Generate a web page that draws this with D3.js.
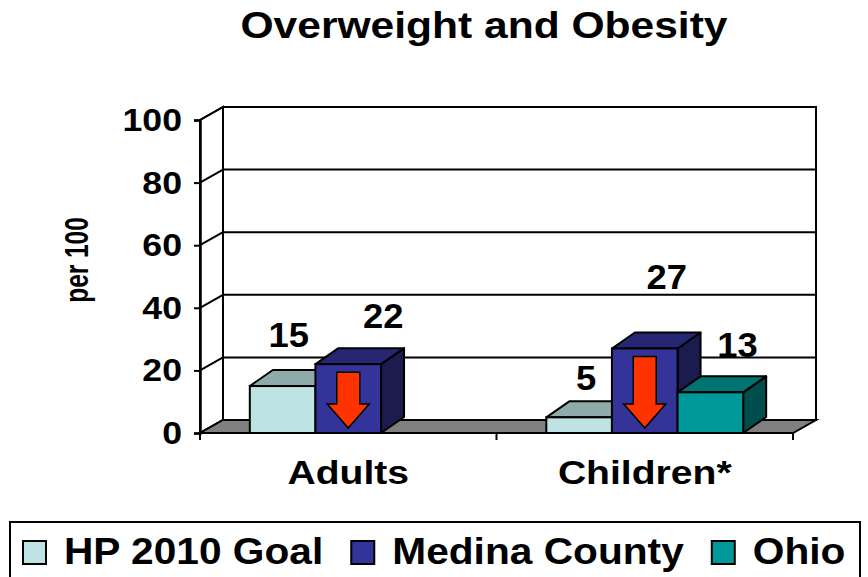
<!DOCTYPE html>
<html>
<head>
<meta charset="utf-8">
<script src="https://cdn.jsdelivr.net/npm/d3@7"></script>
<style>
  body { margin: 0; background: #fff; }
  text { font-family: "Liberation Sans", Arial, sans-serif; font-weight: bold; fill: #000; }
</style>
</head>
<body>
<div id="chart"></div>
<script>
// data
var categories = ['Adults', 'Children*'];
var seriesNames = ['HP 2010 Goal', 'Medina County', 'Ohio'];
var hpGoal = [15, 5];
var medina = [22, 27];
var ohio = [null, 13];
var yTicks = [0, 20, 40, 60, 80, 100];
var arrowSeries = ['Medina County'];

// colours per series: front, top, side
var colors = {
    'HP 2010 Goal': ['#bde3e5', '#8eaaab', '#5f7a7b'],
    'Medina County': ['#333399', '#262673', '#1b1b4d'],
    'Ohio': ['#009999', '#007373', '#004d4d']
};

// nudges of the value labels from the bar's top-centre (as Excel placed them)
var labelNudge = {
    'Adults|HP 2010 Goal': [6, -39],
    'Adults|Medina County': [35, -36],
    'Children*|HP 2010 Goal': [7, -27],
    'Children*|Medina County': [22, -59],
    'Children*|Ohio': [27, -35]
};

var rows = [];
for (var i = 0; i < categories.length; i++) {
    var vals = [hpGoal[i], medina[i], ohio[i]];
    for (var j = 0; j < seriesNames.length; j++)
        if (vals[j] != null) rows.push({cat: categories[i], series: seriesNames[j], value: vals[j]});
}

var width = 868, height = 577;
var stretch = 1.15;   // the original is stretched sideways

var svg = d3.select('#chart').append('svg')
    .attr('width', width)
    .attr('height', height);

// PLOT AREA
var plotLeft = 200, plotRight = 793, plotBottom = 433, plotTop = 120;
var wallDx = 23, wallDy = -13;
var barDx = 23, barDy = -16;

var x0 = d3.scaleBand().domain(categories).range([plotLeft, plotRight])
    .paddingInner(0.336).paddingOuter(0.168);
var x1 = d3.scaleBand().domain(seriesNames).range([0, x0.bandwidth()]);
var y = d3.scaleLinear().domain([0, 100]).range([plotBottom, plotTop]);

function label(sel, x, yy, size, anchor, sx) {
    return sel.append('text')
        .attr('transform', 'translate(' + x + ',' + yy + ') scale(' + (sx || stretch) + ',1)')
        .attr('text-anchor', anchor || 'middle')
        .attr('font-size', size + 'px');
}

function pts(a) { return a.map(function(p){ return p.join(','); }).join(' '); }

// back wall
svg.append('rect')
    .attr('x', plotLeft + wallDx)
    .attr('y', y(100) + wallDy)
    .attr('width', plotRight - plotLeft)
    .attr('height', y(0) - y(100))
    .attr('fill', '#fff')
    .attr('stroke', '#000')
    .attr('stroke-width', 2);

// left wall
svg.append('polygon')
    .attr('points', pts([[plotLeft, y(0)], [plotLeft, y(100)], [plotLeft + wallDx, y(100) + wallDy], [plotLeft + wallDx, y(0) + wallDy]]))
    .attr('fill', '#fff')
    .attr('stroke', '#000')
    .attr('stroke-width', 2);

// gridlines on both walls
yTicks.forEach(function(t){
    svg.append('line')
        .attr('x1', plotLeft + wallDx).attr('x2', plotRight + wallDx)
        .attr('y1', y(t) + wallDy).attr('y2', y(t) + wallDy)
        .attr('stroke', '#000').attr('stroke-width', 2);
    svg.append('line')
        .attr('x1', plotLeft).attr('x2', plotLeft + wallDx)
        .attr('y1', y(t)).attr('y2', y(t) + wallDy)
        .attr('stroke', '#000').attr('stroke-width', 2);
});

// floor
svg.append('polygon')
    .attr('points', pts([[plotLeft, y(0)], [plotRight, y(0)], [plotRight + wallDx, y(0) + wallDy], [plotLeft + wallDx, y(0) + wallDy]]))
    .attr('fill', '#808080')
    .attr('stroke', '#000')
    .attr('stroke-width', 2);

// Y AXIS
var yAxis = d3.axisLeft(y).tickValues(yTicks).tickSize(6).tickFormat('');
var yg = svg.append('g')
    .attr('transform', 'translate(' + plotLeft + ',0)')
    .call(yAxis);
yg.select('.domain').attr('stroke', '#000').attr('stroke-width', 2.5);
yg.selectAll('.tick line').attr('stroke', '#000').attr('stroke-width', 2);
yTicks.forEach(function(t){
    label(svg, plotLeft - 18, y(t) + 11, 31, 'end').text(t);
});

// X AXIS ticks at band edges
var xEdges = categories.map(function(c){ return x0(c) - x0.step() * x0.paddingInner() / 2; });
xEdges.push(plotRight);
xEdges.forEach(function(xe){
    svg.append('line')
        .attr('x1', xe).attr('x2', xe)
        .attr('y1', y(0)).attr('y2', y(0) + 7)
        .attr('stroke', '#000').attr('stroke-width', 2);
});
categories.forEach(function(c){
    label(svg, x0(c) + x0.bandwidth() / 2, 484, 34).text(c);
});

// BARS (left to right so each front face covers the neighbour's side)
rows.forEach(function(d){
    var bx = x0(d.cat) + x1(d.series);
    var bw = x1.bandwidth();
    var by = y(d.value);
    var c = colors[d.series];
    var g = svg.append('g');

    g.append('polygon')   // side
        .attr('points', pts([[bx + bw, by], [bx + bw + barDx, by + barDy], [bx + bw + barDx, y(0) + barDy], [bx + bw, y(0)]]))
        .attr('fill', c[2]).attr('stroke', '#000').attr('stroke-width', 2).attr('stroke-linejoin', 'round');
    g.append('polygon')   // top
        .attr('points', pts([[bx, by], [bx + barDx, by + barDy], [bx + bw + barDx, by + barDy], [bx + bw, by]]))
        .attr('fill', c[1]).attr('stroke', '#000').attr('stroke-width', 2).attr('stroke-linejoin', 'round');
    g.append('rect')      // front
        .attr('x', bx).attr('y', by)
        .attr('width', bw).attr('height', y(0) - by)
        .attr('fill', c[0]).attr('stroke', '#000').attr('stroke-width', 2);

    if (arrowSeries.indexOf(d.series) >= 0) {
        var cx = bx + bw / 2, t0 = by + 8, tip = y(0) - 5;
        var sw = 11.5, hw = 21, hh = 24;
        g.append('polygon')
            .attr('points', pts([[cx - sw, t0], [cx + sw, t0], [cx + sw, tip - hh], [cx + hw, tip - hh],
                                 [cx, tip], [cx - hw, tip - hh], [cx - sw, tip - hh]]))
            .attr('fill', '#ff3300').attr('stroke', '#000').attr('stroke-width', 1.5);
    }
});

// value labels
rows.forEach(function(d){
    var n = labelNudge[d.cat + '|' + d.series] || [0, -36];
    var cx = x0(d.cat) + x1(d.series) + x1.bandwidth() / 2;
    label(svg, cx + n[0], y(d.value) + n[1], 35, 'middle', 1.04).text(d.value);
});

// TITLE
label(svg, 484, 38, 37).text('Overweight and Obesity');

// Y TITLE
svg.append('text')
    .attr('transform', 'translate(88,260) rotate(-90) scale(0.74,1)')
    .attr('text-anchor', 'middle')
    .attr('font-size', '33px')
    .text('per 100');

// LEGEND
var legend = svg.append('g');
legend.append('rect')
    .attr('x', 10).attr('y', 522)
    .attr('width', 850).attr('height', 80)
    .attr('fill', '#fff')
    .attr('stroke', '#000')
    .attr('stroke-width', 2);
var lx = 23;
seriesNames.forEach(function(s){
    legend.append('rect')
        .attr('x', lx).attr('y', 541)
        .attr('width', 23).attr('height', 23)
        .attr('fill', colors[s][0])
        .attr('stroke', '#000').attr('stroke-width', 2);
    var t = label(legend, lx + 41, 564, 36, 'start', 1.13).text(s);
    lx += 41 + t.node().getComputedTextLength() * 1.13 + 28;
});
</script>
</body>
</html>
